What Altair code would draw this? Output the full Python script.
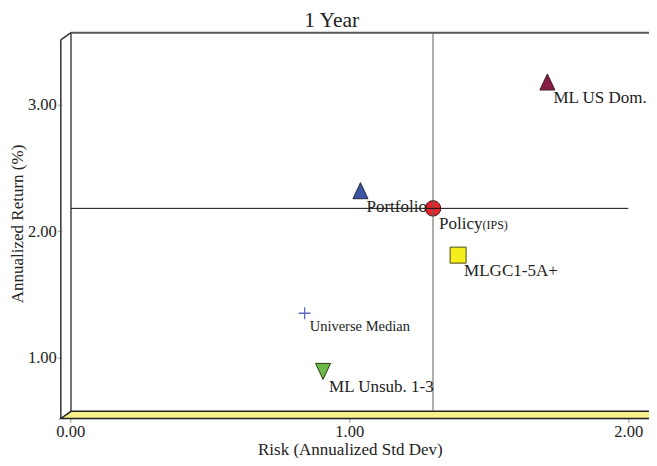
import altair as alt
import pandas as pd

# ---- data ----
names = ["Portfolio", "Policy", "ML US Dom.", "MLGC1-5A+", "Universe Median", "ML Unsub. 1-3"]
risk = [1.04, 1.30, 1.71, 1.39, 0.84, 0.906]
ret = [2.32, 2.18, 3.18, 1.81, 1.35, 0.89]

TRI_UP = "M0,-1.07L1,1.07L-1,1.07Z"
TRI_DOWN = "M0,1.07L1,-1.07L-1,-1.07Z"
PLUS = "M-1,0L1,0M0,-1L0,1"
shapes = [TRI_UP, "circle", TRI_UP, "square", PLUS, TRI_DOWN]
fills = ["#3a55a6", "#e4262b", "#8a1a48", "#f6ee1c", "transparent", "#6aba45"]
strokes = ["#2a2a3a", "#3a1a1a", "#3a1a2a", "#4a4a10", "#5a6cc0", "#2a3a1a"]
stroke_w = [1.0, 1.0, 1.0, 1.0, 1.3, 1.0]
sizes = [225, 240, 225, 256, 144, 225]

x_ticks = [0, 1, 2]
y_ticks = [1, 2, 3]

# scale extents (frame of the 3D box; the frame runs past the visible right edge)
PLOT_W = 578.7
X_DOMAIN = [0, 2.0742]
Y_DOMAIN = [0.5174, 3.57]
FRAME_RIGHT = 2.10
FLOOR_BACK_Y = 0.5744
FRONT_X = -0.034
FRONT_TOP_Y = 3.514
BACK_X = 0.0025
FLOOR_X = [FRONT_X, BACK_X, 2.08, FRAME_RIGHT]
FLOOR_TOP = [Y_DOMAIN[0], FLOOR_BACK_Y, FLOOR_BACK_Y, FLOOR_BACK_Y]
FLOOR_BOT = [Y_DOMAIN[0], Y_DOMAIN[0], Y_DOMAIN[0], FLOOR_BACK_Y]

pts = pd.DataFrame({
    "name": names, "risk": risk, "ret": ret, "shape": shapes, "fill": fills,
    "stroke": strokes, "sw": stroke_w, "size": sizes,
})

floor = pd.DataFrame({"x": FLOOR_X, "y": FLOOR_TOP, "y2": FLOOR_BOT})
walls = pd.DataFrame({
    "x":  [FRONT_X, FRONT_X, BACK_X, BACK_X],
    "y":  [Y_DOMAIN[0], FRONT_TOP_Y, Y_DOMAIN[1], Y_DOMAIN[1]],
    "x2": [FRONT_X, BACK_X, FRAME_RIGHT, BACK_X],
    "y2": [FRONT_TOP_Y, Y_DOMAIN[1], Y_DOMAIN[1], FLOOR_BACK_Y],
    "w":  [1.5, 1.5, 2.0, 1.3],
    "c":  ["#333333", "#333333", "#5a5a5a", "#333333"],
})
pol_r = risk[names.index("Policy")]
pol_y = ret[names.index("Policy")]
cross = pd.DataFrame({
    "x":  [pol_r, BACK_X],
    "y":  [FLOOR_BACK_Y, pol_y],
    "x2": [pol_r, 2.0],
    "y2": [Y_DOMAIN[1], pol_y],
    "c":  ["#606060", "#111111"],
})

FONT = "'Liberation Serif', 'Times New Roman', Times, 'DejaVu Serif', serif"
xs = alt.Scale(domain=X_DOMAIN, nice=False, zero=False)
ys = alt.Scale(domain=Y_DOMAIN, nice=False, zero=False)

xaxis = alt.Axis(values=x_ticks, format=".2f", title=None, domain=False, grid=False,
                 tickSize=4, tickColor="#999999", labelFont=FONT, labelFontSize=16.5,
                 labelColor="#222222", labelPadding=1, labelFlush=False, labelOverlap=False,
                 labelAlign="center")
yaxis = alt.Axis(values=y_ticks, format=".2f", title=None, domain=False, grid=False,
                 tickSize=4, tickColor="#999999", labelFont=FONT, labelFontSize=16.5,
                 labelColor="#222222", labelPadding=1, offset=9, labelFlush=False,
                 labelOverlap=False, labelBaseline="middle")

floor_l = alt.Chart(floor).mark_area(fill="#f8ef8a", stroke="#222222", strokeWidth=1.5).encode(
    x=alt.X("x:Q", scale=xs, axis=xaxis),
    y=alt.Y("y:Q", scale=ys, axis=yaxis),
    y2="y2:Q",
)

walls_l = alt.Chart(walls).mark_rule().encode(
    x=alt.X("x:Q", scale=xs), y=alt.Y("y:Q", scale=ys), x2="x2:Q", y2="y2:Q",
    strokeWidth=alt.StrokeWidth("w:Q", scale=None),
    color=alt.Color("c:N", scale=None),
)

points_l = alt.Chart(pts).mark_point(filled=True, opacity=1).encode(
    x=alt.X("risk:Q", scale=xs),
    y=alt.Y("ret:Q", scale=ys),
    shape=alt.Shape("shape:N", scale=None),
    fill=alt.Fill("fill:N", scale=None),
    stroke=alt.Stroke("stroke:N", scale=None),
    strokeWidth=alt.StrokeWidth("sw:Q", scale=None),
    size=alt.Size("size:Q", scale=None),
)

cross_l = alt.Chart(cross).mark_rule(strokeWidth=1).encode(
    x=alt.X("x:Q", scale=xs), y=alt.Y("y:Q", scale=ys), x2="x2:Q", y2="y2:Q",
    color=alt.Color("c:N", scale=None),
)

labels_l = alt.Chart(pts).transform_filter(
    alt.datum.name != "Universe Median"
).mark_text(align="left", baseline="alphabetic", dx=6, dy=21, font=FONT,
            fontSize=17, color="#222222").encode(
    x=alt.X("risk:Q", scale=xs), y=alt.Y("ret:Q", scale=ys), text="name:N",
)

univ_l = alt.Chart(pts).transform_filter(
    alt.datum.name == "Universe Median"
).mark_text(align="left", baseline="alphabetic", dx=5, dy=18, font=FONT,
            fontSize=14.5, color="#222222").encode(
    x=alt.X("risk:Q", scale=xs), y=alt.Y("ret:Q", scale=ys), text="name:N",
)

ips_l = alt.Chart(pts).transform_filter(
    alt.datum.name == "Policy"
).mark_text(align="left", baseline="alphabetic", dx=49.5, dy=21, font=FONT,
            fontSize=12, color="#222222").encode(
    x=alt.X("risk:Q", scale=xs), y=alt.Y("ret:Q", scale=ys), text=alt.value("(IPS)"),
)

texts = pd.DataFrame({
    "t": ["1 Year", "Risk (Annualized Std Dev)", "Annualized Return (%)"],
})
title_l = alt.Chart(texts).transform_filter(alt.datum.t == "1 Year").mark_text(
    font=FONT, fontSize=21.5, align="center", baseline="alphabetic", color="#222222"
).encode(text="t:N", x=alt.value(261.4), y=alt.value(-5.5))

xtitle_l = alt.Chart(texts).transform_filter(alt.datum.t == "Risk (Annualized Std Dev)").mark_text(
    font=FONT, fontSize=17, align="center", baseline="alphabetic", color="#222222"
).encode(text="t:N", x=alt.value(280.0), y=alt.value(422.1))

ytitle_l = alt.Chart(texts).transform_filter(alt.datum.t == "Annualized Return (%)").mark_text(
    font=FONT, fontSize=17, align="center", baseline="alphabetic", angle=270, color="#222222"
).encode(text="t:N", x=alt.value(-47.3), y=alt.value(191.3))

chart = alt.layer(
    floor_l, walls_l, points_l, cross_l, labels_l, univ_l, ips_l, title_l, xtitle_l, ytitle_l
).properties(
    width=PLOT_W, height=385.8,
    autosize=alt.AutoSizeParams(type="none"),
    padding={"left": 62.3, "top": 24.7, "right": 0, "bottom": 39.5},
).configure_view(stroke=None).configure(background="white")

chart.save("out.html", embed_options={"renderer": "svg", "actions": False})
